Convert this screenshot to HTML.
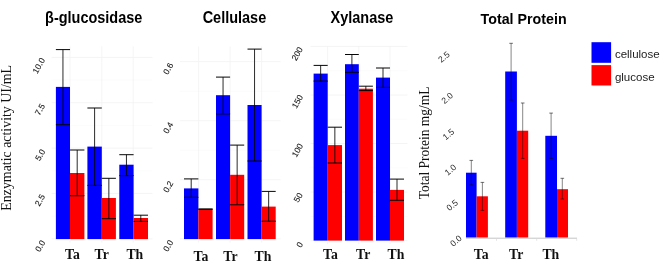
<!DOCTYPE html>
<html><head><meta charset="utf-8"><title>Enzymatic activity</title>
<style>html,body{margin:0;padding:0;background:#fff;}body{width:660px;height:262px;overflow:hidden;position:relative;}svg{display:block;position:absolute;top:0;left:0;will-change:transform;}text{font-family:"Liberation Sans",sans-serif;}.ser{font-family:"Liberation Serif",serif;}</style>
</head><body>
<svg width="660" height="262" viewBox="0 0 660 262">
<rect x="0" y="0" width="660" height="262" fill="#ffffff"/>
<line x1="51.6" y1="57.4" x2="152.4" y2="57.4" stroke="#f1f1f1" stroke-width="0.8"/>
<line x1="51.6" y1="102.7" x2="152.4" y2="102.7" stroke="#f1f1f1" stroke-width="0.8"/>
<line x1="51.6" y1="148.1" x2="152.4" y2="148.1" stroke="#f1f1f1" stroke-width="0.8"/>
<line x1="51.6" y1="193.4" x2="152.4" y2="193.4" stroke="#f1f1f1" stroke-width="0.8"/>
<line x1="51.6" y1="238.8" x2="152.4" y2="238.8" stroke="#f1f1f1" stroke-width="0.8"/>
<line x1="51.6" y1="80.0" x2="152.4" y2="80.0" stroke="#f8f8f8" stroke-width="0.6"/>
<line x1="51.6" y1="125.4" x2="152.4" y2="125.4" stroke="#f8f8f8" stroke-width="0.6"/>
<line x1="51.6" y1="170.8" x2="152.4" y2="170.8" stroke="#f8f8f8" stroke-width="0.6"/>
<line x1="51.6" y1="216.1" x2="152.4" y2="216.1" stroke="#f8f8f8" stroke-width="0.6"/>
<line x1="70" y1="46.4" x2="70" y2="242.6" stroke="#f3f3f3" stroke-width="0.8"/>
<line x1="101.8" y1="46.4" x2="101.8" y2="242.6" stroke="#f3f3f3" stroke-width="0.8"/>
<line x1="133.2" y1="46.4" x2="133.2" y2="242.6" stroke="#f3f3f3" stroke-width="0.8"/>
<rect x="55.9" y="86.9" width="14.1" height="152.2" fill="#0000ff"/>
<rect x="70.0" y="173" width="14.4" height="66.1" fill="#ff0000"/>
<rect x="87.4" y="146.6" width="14.4" height="92.5" fill="#0000ff"/>
<rect x="101.8" y="198" width="14.1" height="41.1" fill="#ff0000"/>
<rect x="119.3" y="164.7" width="14.3" height="74.4" fill="#0000ff"/>
<rect x="133.6" y="218" width="14.4" height="21.1" fill="#ff0000"/>
<path d="M62.95 49.6V124.7" stroke="#050505" stroke-width="0.85" fill="none"/>
<path d="M55.9 49.6H70.0M55.9 124.7H70.0" stroke="#050505" stroke-width="1.0" fill="none"/>
<path d="M77.2 150.0V195.7" stroke="#050505" stroke-width="0.85" fill="none"/>
<path d="M70.0 150.0H84.4M70.0 195.7H84.4" stroke="#050505" stroke-width="1.0" fill="none"/>
<path d="M94.6 108V185.4" stroke="#050505" stroke-width="0.85" fill="none"/>
<path d="M87.4 108H101.8M87.4 185.4H101.8" stroke="#050505" stroke-width="1.0" fill="none"/>
<path d="M108.85 178.3V218.7" stroke="#050505" stroke-width="0.85" fill="none"/>
<path d="M101.8 178.3H115.9M101.8 218.7H115.9" stroke="#050505" stroke-width="1.0" fill="none"/>
<path d="M126.44999999999999 154.7V175.6" stroke="#050505" stroke-width="0.85" fill="none"/>
<path d="M119.3 154.7H133.6M119.3 175.6H133.6" stroke="#050505" stroke-width="1.0" fill="none"/>
<path d="M140.8 215.2V221.4" stroke="#050505" stroke-width="0.85" fill="none"/>
<path d="M133.6 215.2H148.0M133.6 221.4H148.0" stroke="#050505" stroke-width="1.0" fill="none"/>
<text x="38.7" y="65.6" transform="rotate(-60 38.7 65.6)" font-size="8.4" text-anchor="middle" dominant-baseline="central" fill="#1c1c1c" stroke="#1c1c1c" stroke-width="0.12">10.0</text>
<text x="39.8" y="109.5" transform="rotate(-60 39.8 109.5)" font-size="8.4" text-anchor="middle" dominant-baseline="central" fill="#1c1c1c" stroke="#1c1c1c" stroke-width="0.12">7.5</text>
<text x="40" y="155" transform="rotate(-60 40 155)" font-size="8.4" text-anchor="middle" dominant-baseline="central" fill="#1c1c1c" stroke="#1c1c1c" stroke-width="0.12">5.0</text>
<text x="39.8" y="200.1" transform="rotate(-60 39.8 200.1)" font-size="8.4" text-anchor="middle" dominant-baseline="central" fill="#1c1c1c" stroke="#1c1c1c" stroke-width="0.12">2.5</text>
<text x="40" y="246" transform="rotate(-60 40 246)" font-size="8.4" text-anchor="middle" dominant-baseline="central" fill="#1c1c1c" stroke="#1c1c1c" stroke-width="0.12">0.0</text>
<line x1="180" y1="61.6" x2="280.5" y2="61.6" stroke="#f1f1f1" stroke-width="0.8"/>
<line x1="180" y1="120.7" x2="280.5" y2="120.7" stroke="#f1f1f1" stroke-width="0.8"/>
<line x1="180" y1="179.7" x2="280.5" y2="179.7" stroke="#f1f1f1" stroke-width="0.8"/>
<line x1="180" y1="238.8" x2="280.5" y2="238.8" stroke="#f1f1f1" stroke-width="0.8"/>
<line x1="180" y1="91.2" x2="280.5" y2="91.2" stroke="#f8f8f8" stroke-width="0.6"/>
<line x1="180" y1="150.2" x2="280.5" y2="150.2" stroke="#f8f8f8" stroke-width="0.6"/>
<line x1="180" y1="209.2" x2="280.5" y2="209.2" stroke="#f8f8f8" stroke-width="0.6"/>
<line x1="198.6" y1="46.4" x2="198.6" y2="242.6" stroke="#f3f3f3" stroke-width="0.8"/>
<line x1="230.1" y1="46.4" x2="230.1" y2="242.6" stroke="#f3f3f3" stroke-width="0.8"/>
<line x1="261.6" y1="46.4" x2="261.6" y2="242.6" stroke="#f3f3f3" stroke-width="0.8"/>
<rect x="184.0" y="188.4" width="14.4" height="50.7" fill="#0000ff"/>
<rect x="198.4" y="209.1" width="14.2" height="30.0" fill="#ff0000"/>
<rect x="216" y="95.2" width="14.1" height="143.9" fill="#0000ff"/>
<rect x="230.1" y="174.8" width="14.1" height="64.3" fill="#ff0000"/>
<rect x="247.5" y="105" width="14.1" height="134.1" fill="#0000ff"/>
<rect x="261.6" y="206.6" width="14.1" height="32.5" fill="#ff0000"/>
<path d="M191.2 178.9V197.3" stroke="#050505" stroke-width="0.85" fill="none"/>
<path d="M184.0 178.9H198.4M184.0 197.3H198.4" stroke="#050505" stroke-width="1.0" fill="none"/>
<path d="M205.5 209.1V209.1" stroke="#050505" stroke-width="0.85" fill="none"/>
<path d="M198.4 209.1H212.6M198.4 209.1H212.6" stroke="#050505" stroke-width="1.0" fill="none"/>
<path d="M223.05 77.1V113.9" stroke="#050505" stroke-width="0.85" fill="none"/>
<path d="M216.0 77.1H230.1M216.0 113.9H230.1" stroke="#050505" stroke-width="1.0" fill="none"/>
<path d="M237.14999999999998 145.1V204.8" stroke="#050505" stroke-width="0.85" fill="none"/>
<path d="M230.1 145.1H244.2M230.1 204.8H244.2" stroke="#050505" stroke-width="1.0" fill="none"/>
<path d="M254.55 49.1V161" stroke="#050505" stroke-width="0.85" fill="none"/>
<path d="M247.5 49.1H261.6M247.5 161H261.6" stroke="#050505" stroke-width="1.0" fill="none"/>
<path d="M268.65 191.4V221.2" stroke="#050505" stroke-width="0.85" fill="none"/>
<path d="M261.6 191.4H275.7M261.6 221.2H275.7" stroke="#050505" stroke-width="1.0" fill="none"/>
<text x="168.1" y="68.6" transform="rotate(-60 168.1 68.6)" font-size="8.4" text-anchor="middle" dominant-baseline="central" fill="#1c1c1c" stroke="#1c1c1c" stroke-width="0.12">0.6</text>
<text x="168.1" y="127.7" transform="rotate(-60 168.1 127.7)" font-size="8.4" text-anchor="middle" dominant-baseline="central" fill="#1c1c1c" stroke="#1c1c1c" stroke-width="0.12">0.4</text>
<text x="168.1" y="186.7" transform="rotate(-60 168.1 186.7)" font-size="8.4" text-anchor="middle" dominant-baseline="central" fill="#1c1c1c" stroke="#1c1c1c" stroke-width="0.12">0.2</text>
<text x="168.1" y="245.8" transform="rotate(-60 168.1 245.8)" font-size="8.4" text-anchor="middle" dominant-baseline="central" fill="#1c1c1c" stroke="#1c1c1c" stroke-width="0.12">0.0</text>
<line x1="310.5" y1="46.4" x2="407.5" y2="46.4" stroke="#f1f1f1" stroke-width="0.8"/>
<line x1="310.5" y1="95" x2="407.5" y2="95" stroke="#f1f1f1" stroke-width="0.8"/>
<line x1="310.5" y1="143.5" x2="407.5" y2="143.5" stroke="#f1f1f1" stroke-width="0.8"/>
<line x1="310.5" y1="192" x2="407.5" y2="192" stroke="#f1f1f1" stroke-width="0.8"/>
<line x1="310.5" y1="240.6" x2="407.5" y2="240.6" stroke="#f1f1f1" stroke-width="0.8"/>
<line x1="310.5" y1="70.7" x2="407.5" y2="70.7" stroke="#f8f8f8" stroke-width="0.6"/>
<line x1="310.5" y1="119.2" x2="407.5" y2="119.2" stroke="#f8f8f8" stroke-width="0.6"/>
<line x1="310.5" y1="167.8" x2="407.5" y2="167.8" stroke="#f8f8f8" stroke-width="0.6"/>
<line x1="310.5" y1="216.3" x2="407.5" y2="216.3" stroke="#f8f8f8" stroke-width="0.6"/>
<line x1="327.6" y1="46.4" x2="327.6" y2="244.1" stroke="#f3f3f3" stroke-width="0.8"/>
<line x1="358.8" y1="46.4" x2="358.8" y2="244.1" stroke="#f3f3f3" stroke-width="0.8"/>
<line x1="390" y1="46.4" x2="390" y2="244.1" stroke="#f3f3f3" stroke-width="0.8"/>
<rect x="313.6" y="73.6" width="14.1" height="167.0" fill="#0000ff"/>
<rect x="327.7" y="145.1" width="14.3" height="95.5" fill="#ff0000"/>
<rect x="345" y="64.2" width="13.8" height="176.4" fill="#0000ff"/>
<rect x="358.8" y="88.7" width="14.1" height="151.9" fill="#ff0000"/>
<rect x="376" y="77.6" width="14.0" height="163.0" fill="#0000ff"/>
<rect x="390" y="189.9" width="14.0" height="50.7" fill="#ff0000"/>
<path d="M320.65 65.4V81.1" stroke="#050505" stroke-width="0.85" fill="none"/>
<path d="M313.6 65.4H327.7M313.6 81.1H327.7" stroke="#050505" stroke-width="1.0" fill="none"/>
<path d="M334.85 127.2V163" stroke="#050505" stroke-width="0.85" fill="none"/>
<path d="M327.7 127.2H342.0M327.7 163H342.0" stroke="#050505" stroke-width="1.0" fill="none"/>
<path d="M351.9 54.5V72.3" stroke="#050505" stroke-width="0.85" fill="none"/>
<path d="M345.0 54.5H358.8M345.0 72.3H358.8" stroke="#050505" stroke-width="1.0" fill="none"/>
<path d="M365.85 86.2V90.6" stroke="#050505" stroke-width="0.85" fill="none"/>
<path d="M358.8 86.2H372.9M358.8 90.6H372.9" stroke="#050505" stroke-width="1.0" fill="none"/>
<path d="M383.0 68V87.4" stroke="#050505" stroke-width="0.85" fill="none"/>
<path d="M376.0 68H390.0M376.0 87.4H390.0" stroke="#050505" stroke-width="1.0" fill="none"/>
<path d="M397.0 179.1V200.3" stroke="#050505" stroke-width="0.85" fill="none"/>
<path d="M390.0 179.1H404.0M390.0 200.3H404.0" stroke="#050505" stroke-width="1.0" fill="none"/>
<text x="297.1" y="53.7" transform="rotate(-60 297.1 53.7)" font-size="8.4" text-anchor="middle" dominant-baseline="central" fill="#1c1c1c" stroke="#1c1c1c" stroke-width="0.12">200</text>
<text x="297.3" y="101.4" transform="rotate(-60 297.3 101.4)" font-size="8.4" text-anchor="middle" dominant-baseline="central" fill="#1c1c1c" stroke="#1c1c1c" stroke-width="0.12">150</text>
<text x="297.3" y="150.2" transform="rotate(-60 297.3 150.2)" font-size="8.4" text-anchor="middle" dominant-baseline="central" fill="#1c1c1c" stroke="#1c1c1c" stroke-width="0.12">100</text>
<text x="298.1" y="197.5" transform="rotate(-60 298.1 197.5)" font-size="8.4" text-anchor="middle" dominant-baseline="central" fill="#1c1c1c" stroke="#1c1c1c" stroke-width="0.12">50</text>
<text x="299.5" y="244.8" transform="rotate(-60 299.5 244.8)" font-size="8.4" text-anchor="middle" dominant-baseline="central" fill="#1c1c1c" stroke="#1c1c1c" stroke-width="0.12">0</text>
<rect x="466" y="172.7" width="10.6" height="64.9" fill="#0000ff"/>
<rect x="476.6" y="196.3" width="11.3" height="41.3" fill="#ff0000"/>
<rect x="505.2" y="71.5" width="11.7" height="166.1" fill="#0000ff"/>
<rect x="516.9" y="130.7" width="11.3" height="106.9" fill="#ff0000"/>
<rect x="545.3" y="135.8" width="11.7" height="101.8" fill="#0000ff"/>
<rect x="557" y="189.2" width="11.0" height="48.4" fill="#ff0000"/>
<path d="M471.3 160.4V184.9" stroke="#111" stroke-width="0.51" fill="none"/>
<path d="M469.5 160.4H473.1M469.5 184.9H473.1" stroke="#111" stroke-width="0.6" fill="none"/>
<path d="M482.4 182.4V210.4" stroke="#111" stroke-width="0.51" fill="none"/>
<path d="M480.6 182.4H484.2M480.6 210.4H484.2" stroke="#111" stroke-width="0.6" fill="none"/>
<path d="M511.1 43.3V100" stroke="#111" stroke-width="0.51" fill="none"/>
<path d="M509.3 43.3H512.9M509.3 100H512.9" stroke="#111" stroke-width="0.6" fill="none"/>
<path d="M522.7 103V158.4" stroke="#111" stroke-width="0.51" fill="none"/>
<path d="M520.9 103H524.5M520.9 158.4H524.5" stroke="#111" stroke-width="0.6" fill="none"/>
<path d="M551.1 113.1V158.4" stroke="#111" stroke-width="0.51" fill="none"/>
<path d="M549.3 113.1H552.9M549.3 158.4H552.9" stroke="#111" stroke-width="0.6" fill="none"/>
<path d="M562.3 178.3V199" stroke="#111" stroke-width="0.51" fill="none"/>
<path d="M560.5 178.3H564.1M560.5 199H564.1" stroke="#111" stroke-width="0.6" fill="none"/>
<path d="M466 238.2H577" stroke="#bdbdbd" stroke-width="0.9" fill="none"/>
<path d="M496.5 238.6v2.2M536.7 238.6v2.2M576.7 238.6v2.2" stroke="#dedede" stroke-width="0.8" fill="none"/>
<text x="443.8" y="56.9" transform="rotate(-40 443.8 56.9)" font-size="8.6" text-anchor="middle" dominant-baseline="central" fill="#2a2a2a" >2.5</text>
<text x="447.2" y="98.0" transform="rotate(-40 447.2 98.0)" font-size="8.6" text-anchor="middle" dominant-baseline="central" fill="#2a2a2a" >2.0</text>
<text x="448.4" y="134.3" transform="rotate(-40 448.4 134.3)" font-size="8.6" text-anchor="middle" dominant-baseline="central" fill="#2a2a2a" >1.5</text>
<text x="450.4" y="169.8" transform="rotate(-40 450.4 169.8)" font-size="8.6" text-anchor="middle" dominant-baseline="central" fill="#2a2a2a" >1.0</text>
<text x="452.2" y="205.1" transform="rotate(-40 452.2 205.1)" font-size="8.6" text-anchor="middle" dominant-baseline="central" fill="#2a2a2a" >0.5</text>
<text x="455.9" y="240.8" transform="rotate(-40 455.9 240.8)" font-size="8.6" text-anchor="middle" dominant-baseline="central" fill="#2a2a2a" >0.0</text>
<text transform="translate(93.7 22.5) scale(0.917 1.0)" x="0" y="0" font-size="15.8" font-weight="bold" text-anchor="middle" fill="#000">β-glucosidase</text>
<text transform="translate(234.4 22.8) scale(0.917 1.0)" x="0" y="0" font-size="15.8" font-weight="bold" text-anchor="middle" fill="#000">Cellulase</text>
<text transform="translate(361.9 22.8) scale(0.917 1.0)" x="0" y="0" font-size="15.8" font-weight="bold" text-anchor="middle" fill="#000">Xylanase</text>
<text transform="translate(523.6 23.7) scale(0.925 1.0)" x="0" y="0" font-size="15.4" font-weight="bold" text-anchor="middle" fill="#000">Total Protein</text>
<text class="ser" transform="translate(72.5 259.3) scale(0.9 1)" x="0" y="0" font-size="15.3" font-weight="bold" text-anchor="middle" fill="#111">Ta</text>
<text class="ser" transform="translate(101.7 259.3) scale(0.9 1)" x="0" y="0" font-size="15.3" font-weight="bold" text-anchor="middle" fill="#111">Tr</text>
<text class="ser" transform="translate(134.8 259.3) scale(0.9 1)" x="0" y="0" font-size="15.3" font-weight="bold" text-anchor="middle" fill="#111">Th</text>
<text class="ser" transform="translate(201.0 261.2) scale(0.9 1)" x="0" y="0" font-size="15.3" font-weight="bold" text-anchor="middle" fill="#111">Ta</text>
<text class="ser" transform="translate(230.4 261.2) scale(0.9 1)" x="0" y="0" font-size="15.3" font-weight="bold" text-anchor="middle" fill="#111">Tr</text>
<text class="ser" transform="translate(262.9 261.2) scale(0.9 1)" x="0" y="0" font-size="15.3" font-weight="bold" text-anchor="middle" fill="#111">Th</text>
<text class="ser" transform="translate(330.5 259.3) scale(0.9 1)" x="0" y="0" font-size="15.3" font-weight="bold" text-anchor="middle" fill="#111">Ta</text>
<text class="ser" transform="translate(363.2 259.3) scale(0.9 1)" x="0" y="0" font-size="15.3" font-weight="bold" text-anchor="middle" fill="#111">Tr</text>
<text class="ser" transform="translate(396.0 259.3) scale(0.9 1)" x="0" y="0" font-size="15.3" font-weight="bold" text-anchor="middle" fill="#111">Th</text>
<text class="ser" transform="translate(481.2 259.1) scale(0.9 1)" x="0" y="0" font-size="15.3" font-weight="bold" text-anchor="middle" fill="#111">Ta</text>
<text class="ser" transform="translate(516.2 259.1) scale(0.9 1)" x="0" y="0" font-size="15.3" font-weight="bold" text-anchor="middle" fill="#111">Tr</text>
<text class="ser" transform="translate(550.8 259.1) scale(0.9 1)" x="0" y="0" font-size="15.3" font-weight="bold" text-anchor="middle" fill="#111">Th</text>
<text class="ser" x="0" y="0" transform="translate(11.2 137.8) rotate(-90)" font-size="13.9" text-anchor="middle" fill="#111">Enzymatic activity UI/mL</text>
<text class="ser" x="0" y="0" transform="translate(428.9 142.9) rotate(-90) scale(0.91 1)" font-size="14.8" text-anchor="middle" fill="#111">Total Protein mg/mL</text>
<rect x="591.5" y="42.2" width="19.6" height="20.6" fill="#0000ff"/>
<rect x="591.5" y="65.1" width="19.6" height="20.4" fill="#ff0000"/>
<text x="614.9" y="57.7" font-size="11.5" fill="#222">cellulose</text>
<text x="614.9" y="80.7" font-size="11.5" fill="#222">glucose</text>
</svg></body></html>
